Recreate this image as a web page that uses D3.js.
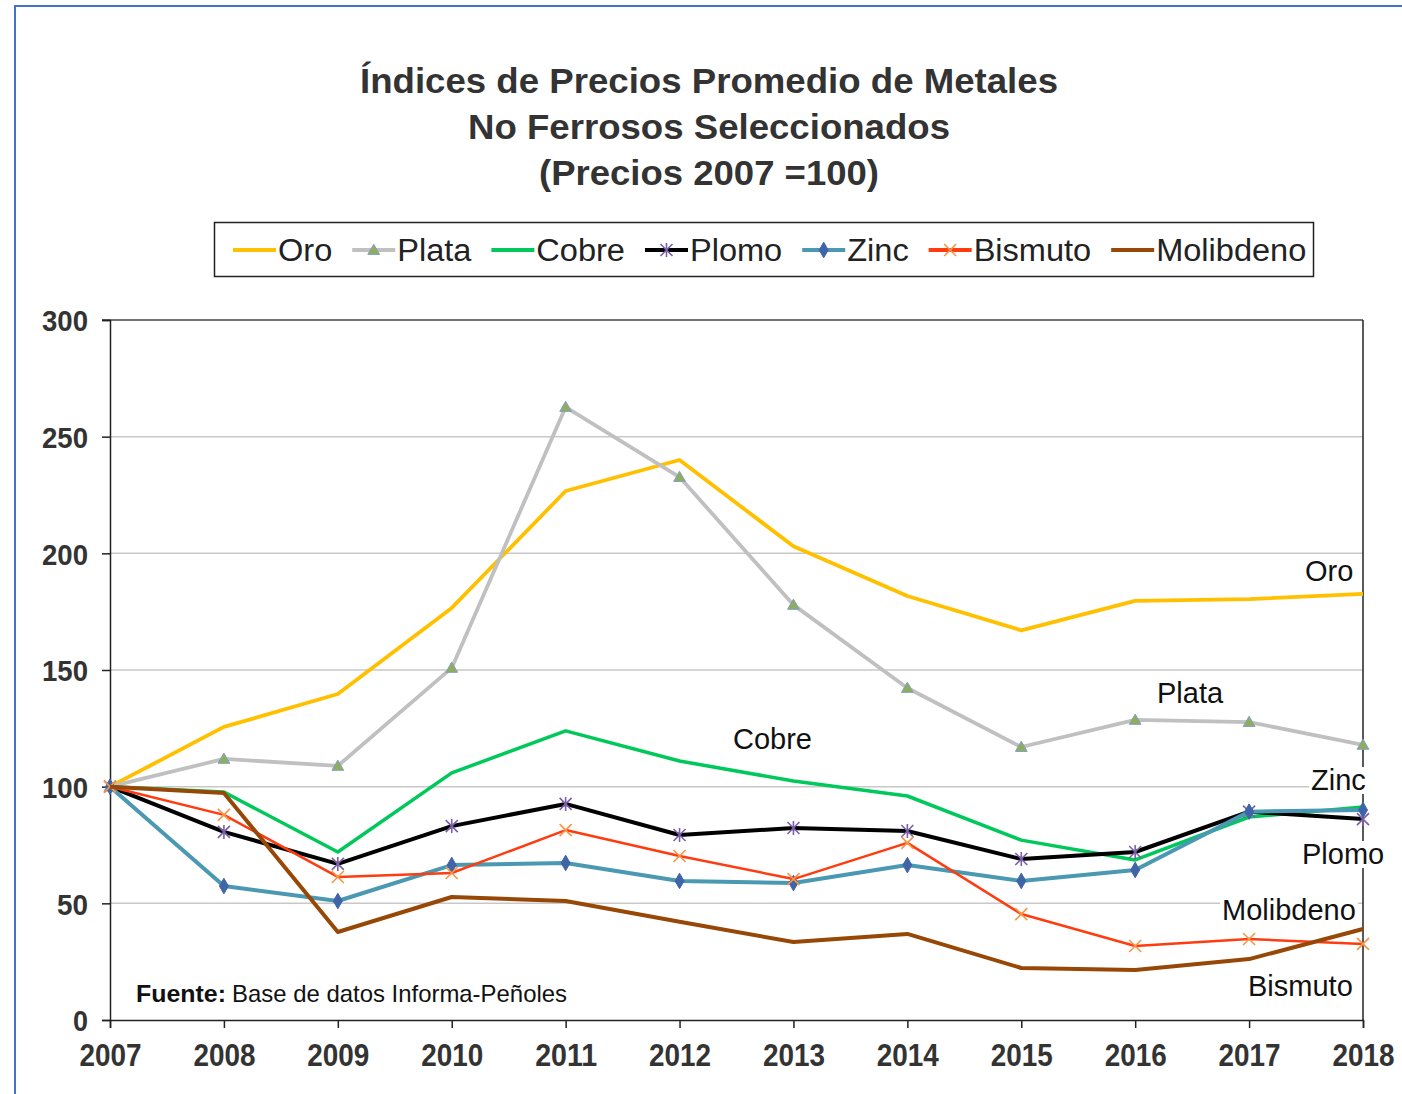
<!DOCTYPE html>
<html><head><meta charset="utf-8">
<script src="https://cdn.jsdelivr.net/npm/d3@7"></script>
<style>
html,body{margin:0;padding:0;background:#fff;}
svg{display:block;}
</style></head>
<body>
<svg id="chart" width="1402" height="1094"></svg>
<script>
const years = [2007,2008,2009,2010,2011,2012,2013,2014,2015,2016,2017,2018];
const oro = [100,125.6,139.7,176.6,226.7,240,203,181.7,167,179.6,180.4,182.6];
const plata = [100,111.9,108.9,150.9,262.7,232.7,177.9,142.3,117,128.6,127.7,117.9];
const cobre = [100,97.7,72,105.9,123.9,111,102.4,96,77.1,68.6,87,91.3];
const plomo = [100,80.6,66.9,83.1,92.6,79.3,82.3,81,69,72,89.3,86.1];
const zinc = [100,57.4,51,66.4,67.3,59.6,58.7,66.4,59.6,64.3,89.3,90];
const bismuto = [100,87.9,61.3,63,81.4,70.3,60.4,75.9,45.4,31.7,34.7,32.6];
const molibdeno = [100,97.3,37.7,52.7,51,42.1,33.4,36.9,22.3,21.4,26.1,39];
const seriesNames = ["Oro","Plata","Cobre","Plomo","Zinc","Bismuto","Molibdeno"];
const yTicks = [0,50,100,150,200,250,300];
const titleLines = ["Índices de Precios Promedio de Metales","No Ferrosos Seleccionados","(Precios 2007 =100)"];
const sourceBold = "Fuente:";
const sourceText = "Base de datos Informa-Peñoles";

const seriesData = [oro,plata,cobre,plomo,zinc,bismuto,molibdeno];
const styles = {
  Oro:{color:"#FFC000",w:3.8,marker:null},
  Plata:{color:"#C0C0C0",w:3.8,marker:"tri"},
  Cobre:{color:"#00C85A",w:3.5,marker:null},
  Plomo:{color:"#000000",w:4,marker:"star"},
  Zinc:{color:"#4A98B2",w:4,marker:"dia"},
  Bismuto:{color:"#FF3B0F",w:2.5,marker:"x"},
  Molibdeno:{color:"#974806",w:4,marker:null}
};
const labelPos = {
  Oro:{x:1305,y:581},Plata:{x:1157,y:703},Cobre:{x:733,y:749},Zinc:{x:1311,y:790},
  Plomo:{x:1302,y:864},Molibdeno:{x:1222,y:920},Bismuto:{x:1248,y:996}
};

const svg = d3.select("#chart");
const FR = "'Liberation Sans',Arial,sans-serif";

// outer frame
svg.append("path").attr("d","M15,1094 V6 H1402").attr("fill","none").attr("stroke","#4472C4").attr("stroke-width",2);

const x = d3.scaleLinear().domain([2007,2018]).range([110,1363]);
const y = d3.scaleLinear().domain([0,300]).range([1020,320]);

// title
const tw = [698,482,340];
titleLines.forEach((t,i)=>{
  svg.append("text").attr("x",709).attr("y",93+i*46).attr("text-anchor","middle")
    .attr("font-family",FR).attr("font-weight","bold").attr("font-size",35).attr("fill","#333")
    .attr("textLength",tw[i]).attr("lengthAdjust","spacingAndGlyphs").text(t);
});

// gridlines
svg.append("g").selectAll("line").data(yTicks.filter(d=>d>0&&d<300)).join("line")
  .attr("x1",110).attr("x2",1363).attr("y1",d=>y(d)).attr("y2",d=>y(d))
  .attr("stroke","#C8C8C8").attr("stroke-width",1.5);

// frame top & right
svg.append("line").attr("x1",102).attr("x2",1363).attr("y1",y(300)).attr("y2",y(300)).attr("stroke","#444").attr("stroke-width",1.5);
svg.append("line").attr("x1",1363).attr("x2",1363).attr("y1",y(300)).attr("y2",y(0)).attr("stroke","#222").attr("stroke-width",1.5);

// axes
const yAxis = d3.axisLeft(y).tickValues(yTicks).tickSize(8).tickPadding(14);
const gy = svg.append("g").attr("transform","translate(110,0)").call(yAxis);
gy.select(".domain").attr("stroke","#222").attr("stroke-width",1.5);
gy.selectAll(".tick line").attr("stroke","#222").attr("stroke-width",1.5);
gy.selectAll(".tick text").attr("font-family",FR).attr("font-weight","bold").attr("font-size",30).attr("fill","#333")
  .attr("textLength",46).attr("lengthAdjust","spacingAndGlyphs").attr("dy","0.36em");
gy.selectAll(".tick text").filter(d=>d<100).attr("textLength",d=>d===0?15:31);

const xAxis = d3.axisBottom(x).tickValues(years).tickFormat(d3.format("d")).tickSize(8).tickPadding(10);
const gx = svg.append("g").attr("transform","translate(0,1020)").call(xAxis);
gx.select(".domain").attr("stroke","#222").attr("stroke-width",1.5);
gx.selectAll(".tick line").attr("stroke","#222").attr("stroke-width",1.5);
gx.selectAll(".tick text").attr("font-family",FR).attr("font-weight","bold").attr("font-size",31).attr("fill","#333")
  .attr("textLength",62).attr("lengthAdjust","spacingAndGlyphs").attr("dy","0.9em");

// markers
function drawMarker(g, type, cx, cy){
  if(type==="tri"){
    g.append("path").attr("d",d3.symbol(d3.symbolTriangle,60)()).attr("transform",`translate(${cx},${cy+1})`)
      .attr("fill","#8FAE5C").attr("stroke","#7F9FC8").attr("stroke-width",1);
  } else if(type==="dia"){
    g.append("path").attr("d",d3.symbol(d3.symbolDiamond,70)()).attr("transform",`translate(${cx},${cy})`)
      .attr("fill","#3F64A8").attr("stroke","#3F64A8").attr("stroke-width",1);
  } else if(type==="star"){
    const r=6;
    const p=`M${-r},${-r}L${r},${r}M${-r},${r}L${r},${-r}M0,${-r-1}L0,${r+1}`;
    g.append("path").attr("d",p).attr("transform",`translate(${cx},${cy})`).attr("stroke","#7B5FA8").attr("stroke-width",1.6).attr("fill","none");
  } else if(type==="x"){
    const r=6;
    g.append("path").attr("d",`M${-r},${-r}L${r},${r}M${-r},${r}L${r},${-r}`).attr("transform",`translate(${cx},${cy})`)
      .attr("stroke","#F79646").attr("stroke-width",1.6).attr("fill","none");
  }
}

// lines
const line = d3.line().x((d,i)=>x(years[i])).y(d=>y(d));
seriesNames.forEach((name,si)=>{
  const st = styles[name];
  const g = svg.append("g");
  g.append("path").datum(seriesData[si]).attr("d",line).attr("fill","none")
    .attr("stroke",st.color).attr("stroke-width",st.w).attr("stroke-linejoin","round");
  if(st.marker){
    seriesData[si].forEach((v,i)=>drawMarker(g,st.marker,x(years[i]),y(v)));
  }
});

// labels
seriesNames.forEach(name=>{
  const p = labelPos[name];
  const t = svg.append("text").attr("x",p.x).attr("y",p.y).attr("font-family",FR).attr("font-size",29).attr("fill","#111").text(name);
  const bb = t.node().getBBox();
  svg.insert("rect", function(){return t.node();}).attr("x",bb.x-2).attr("y",bb.y+3).attr("width",bb.width+4).attr("height",bb.height-5).attr("fill","#fff");
});

// source
svg.append("text").attr("x",136).attr("y",1002).attr("font-family",FR).attr("font-weight","bold").attr("font-size",24).attr("fill","#111")
  .attr("textLength",90).attr("lengthAdjust","spacingAndGlyphs").text(sourceBold);
svg.append("text").attr("x",232).attr("y",1002).attr("font-family",FR).attr("font-size",24).attr("fill","#111")
  .attr("textLength",335).attr("lengthAdjust","spacingAndGlyphs").text(sourceText);

// legend
const lg = svg.append("g");
lg.append("rect").attr("x",214.5).attr("y",222.5).attr("width",1099).attr("height",54).attr("fill","#fff").attr("stroke","#222").attr("stroke-width",1.5);
let lx = 233;
seriesNames.forEach(name=>{
  const st = styles[name];
  lg.append("line").attr("x1",lx).attr("x2",lx+43).attr("y1",250).attr("y2",250).attr("stroke",st.color).attr("stroke-width",4);
  if(st.marker) drawMarker(lg,st.marker,lx+21.5,250);
  const t = lg.append("text").attr("x",lx+45).attr("y",261).attr("font-family",FR).attr("font-size",31).attr("fill","#222")
    .attr("transform",`translate(${lx+45},0) scale(1.05,1) translate(${-(lx+45)},0)`).text(name);
  lx += 45 + t.node().getComputedTextLength()*1.05 + 20;
});
</script>
</body></html>
